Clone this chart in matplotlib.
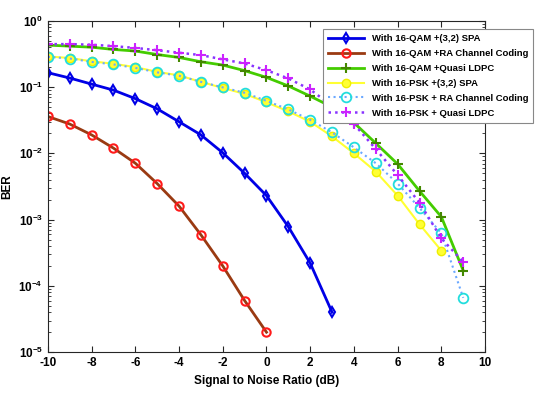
import math
import matplotlib
matplotlib.use('Agg')
import matplotlib.pyplot as plt
from matplotlib.ticker import FixedLocator, FuncFormatter, LogLocator, NullFormatter

plt.rcParams['font.family'] = ['Liberation Sans', 'DejaVu Sans']
plt.rcParams['font.weight'] = 'bold'
plt.rcParams['mathtext.fontset'] = 'custom'
plt.rcParams['mathtext.bf'] = 'Liberation Sans:bold'
plt.rcParams['mathtext.rm'] = 'Liberation Sans:bold'
plt.rcParams['axes.unicode_minus'] = False

# SNR values (dB)
snr_qam_spa = list(range(-10, 4))
snr_qam_ra = list(range(-10, 1))
snr_full = list(range(-10, 10))
snr_psk_spa = list(range(-10, 9))

# BER values
ber_qam_spa = [0.165, 0.137, 0.111, 0.090, 0.067, 0.047, 0.030, 0.019, 0.0102,
               0.0050, 0.0023, 0.00078, 0.00022, 0.00004]
ber_qam_ra = [0.036, 0.0277, 0.019, 0.012, 0.0071, 0.0035, 0.0016, 0.00059,
              0.0002, 0.00006, 0.00002]
ber_qam_ldpc = [0.43, 0.415, 0.40, 0.37, 0.35, 0.31, 0.28, 0.241, 0.215, 0.177,
                0.14, 0.104, 0.073, 0.050, 0.029, 0.0142, 0.0069, 0.0027,
                0.0011, 0.00017]
ber_psk_spa = [0.29, 0.275, 0.245, 0.225, 0.20, 0.17, 0.15, 0.12, 0.097, 0.079,
               0.059, 0.043, 0.030, 0.018, 0.010, 0.0053, 0.0023, 0.00085,
               0.00034]
ber_psk_ra = [0.286, 0.27, 0.24, 0.22, 0.195, 0.167, 0.148, 0.12, 0.099, 0.082,
              0.062, 0.046, 0.032, 0.0207, 0.0123, 0.0071, 0.0035, 0.0015,
              0.00062, 0.000066]
ber_psk_ldpc = [0.445, 0.445, 0.436, 0.415, 0.39, 0.36, 0.33, 0.304, 0.262,
                0.227, 0.180, 0.135, 0.092, 0.052, 0.0277, 0.0116, 0.0047,
                0.0018, 0.00052, 0.00023]

fig = plt.figure(figsize=(5.5, 3.93), dpi=100)
ax = fig.add_axes([0.087, 0.104, 0.795, 0.843])

ax.semilogy(snr_qam_spa, ber_qam_spa, '-d', color='#0000e6', lw=2,
            mfc='none', mec='#0000e6', ms=5.5, mew=1.5,
            label='With 16-QAM +(3,2) SPA')
ax.semilogy(snr_qam_ra, ber_qam_ra, '-o', color='#9a3a12', lw=2,
            mfc='none', mec='#ff1a1a', ms=6, mew=1.5,
            label='With 16-QAM +RA Channel Coding')
ax.semilogy(snr_full, ber_qam_ldpc, '-+', color='#44cc00', lw=2,
            mec='#448800', ms=7, mew=1.5,
            label='With 16-QAM +Quasi LDPC')
ax.semilogy(snr_psk_spa, ber_psk_spa, '-o', color='#ffff33', lw=1.5,
            mfc='#ffff33', mec='#eeee00', ms=6,
            label='With 16-PSK +(3,2) SPA')
ax.semilogy(snr_full, ber_psk_ra, ':o', color='#6aa8ff', lw=1.5,
            mfc='none', mec='#22dddd', ms=7, mew=1.3,
            label='With 16-PSK + RA Channel Coding')
ax.semilogy(snr_full, ber_psk_ldpc, ':+', color='#8833ff', lw=1.8,
            mec='#cc22ff', ms=7, mew=1.5,
            label='With 16-PSK + Quasi LDPC')

ax.set_xlim(-10, 10)
ax.set_ylim(1e-5, 1)
ax.xaxis.set_major_locator(FixedLocator(list(range(-10, 11, 2))))
ax.yaxis.set_major_locator(LogLocator(base=10, numticks=10))
ax.yaxis.set_minor_locator(LogLocator(base=10, subs=range(2, 10), numticks=10))
ax.yaxis.set_minor_formatter(NullFormatter())
ax.yaxis.set_major_formatter(FuncFormatter(
    lambda v, p: r'$\mathbf{10^{%d}}$' % round(math.log10(v))))
ax.tick_params(direction='in', which='both', top=True, right=True,
               labelsize=8.5, colors='#262626', labelcolor='black')
ax.tick_params(which='major', length=4)
ax.tick_params(which='minor', length=2)
for s in ax.spines.values():
    s.set_color('#262626')
    s.set_linewidth(0.8)

ax.set_xlabel('Signal to Noise Ratio (dB)', fontsize=8.5, fontweight='bold')
ax.set_ylabel('BER', fontsize=8.5, fontweight='bold')

leg = ax.legend(loc='upper left', bbox_to_anchor=(0.629, 0.975),
                fontsize=6.8, frameon=True, fancybox=False,
                borderaxespad=0, handlelength=3.8, labelspacing=0.62,
                borderpad=0.55, handletextpad=0.8)
leg.get_frame().set_edgecolor('#888888')
leg.get_frame().set_linewidth(0.8)
leg.get_frame().set_alpha(1)

fig.savefig('out.png', dpi=100)
